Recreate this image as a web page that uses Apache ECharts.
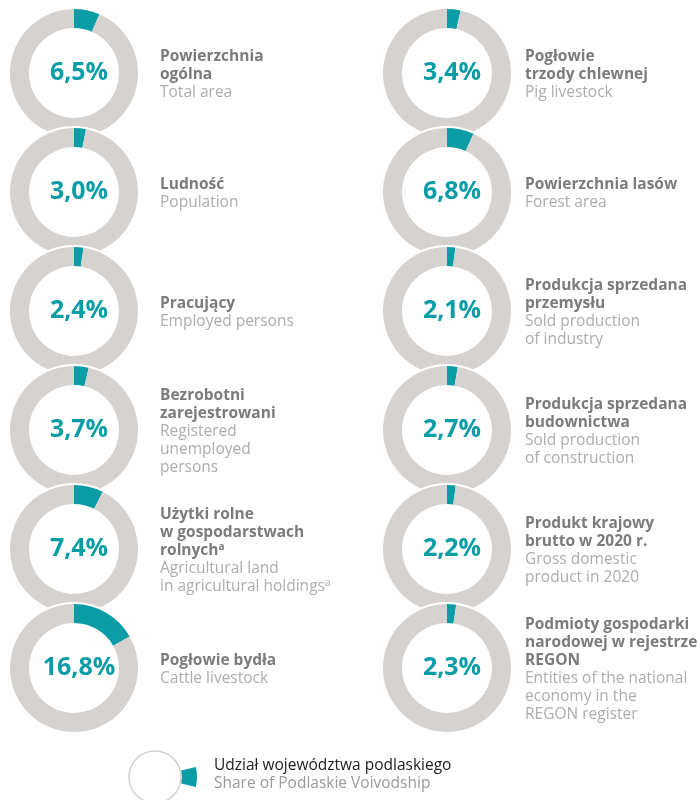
<!DOCTYPE html>
<html>
<head>
<meta charset="utf-8">
<script src="https://cdn.jsdelivr.net/npm/echarts@6/dist/echarts.min.js"></script>
<style>
  html, body { margin: 0; padding: 0; background: #fff; }
  #chart { width: 697px; height: 800px; }
</style>
</head>
<body>
<div id="chart"></div>
<script>
// share of the voivodship in Poland, % (left column first, then right column)
const shares = [6.5, 3.0, 2.4, 3.7, 7.4, 16.8, 3.4, 6.8, 2.1, 2.7, 2.2, 2.3]
const namesPl = [
  'Powierzchnia\nogólna',
  'Ludność',
  'Pracujący',
  'Bezrobotni\nzarejestrowani',
  'Użytki rolne\nw gospodarstwach\nrolnych^a',
  'Pogłowie bydła',
  'Pogłowie\ntrzody chlewnej',
  'Powierzchnia lasów',
  'Produkcja sprzedana\nprzemysłu',
  'Produkcja sprzedana\nbudownictwa',
  'Produkt krajowy\nbrutto w 2020 r.',
  'Podmioty gospodarki\nnarodowej w rejestrze\nREGON'
]
const namesEn = [
  'Total area',
  'Population',
  'Employed persons',
  'Registered\nunemployed\npersons',
  'Agricultural land\nin agricultural holdings^a',
  'Cattle livestock',
  'Pig livestock',
  'Forest area',
  'Sold production\nof industry',
  'Sold production\nof construction',
  'Gross domestic\nproduct in 2020',
  'Entities of the national\neconomy in the\nREGON register'
]
const legendPl = 'Udział województwa podlaskiego'
const legendEn = 'Share of Podlaskie Voivodship'

const TEAL = '#0a9da6'
const GREY = '#d5d2cf'
const FONT = 'Open Sans'

const colX = [74, 447]
const rowY = [73, 192, 311, 430, 549, 668]
const R0 = 45
const R = 64

function fmt(v) {
  return v.toFixed(1).replace('.', ',') + '%'
}

function richLines(str, style) {
  return str.split('\n').map(line => {
    if (line.indexOf('^a') >= 0) {
      return '{' + style + '|' + line.replace('^a', '') + '}{' + style + 'Sup|a}'
    }
    return '{' + style + '|' + line + '}'
  }).join('\n')
}

const series = []
const graphic = []
shares.forEach((v, i) => {
  const col = i < 6 ? 0 : 1
  const row = i % 6
  const cx = colX[col]
  const cy = rowY[row]
  // white disc so each ring cuts into the one above it
  series.push({
    type: 'pie',
    z: 2 + i * 2,
    silent: true,
    center: [cx, cy],
    radius: [0, R + 2],
    label: { show: false },
    itemStyle: { color: '#fff' },
    data: [{ value: 1 }]
  })
  series.push({
    type: 'pie',
    z: 3 + i * 2,
    silent: true,
    center: [cx, cy],
    radius: [R0, R],
    startAngle: 90,
    clockwise: true,
    labelLine: { show: false },
    data: [
      {
        value: v,
        itemStyle: { color: TEAL },
        label: {
          show: true,
          position: 'center',
          formatter: fmt(v),
          offset: [5, 0],
          color: TEAL,
          fontFamily: FONT,
          fontWeight: 'bold',
          fontSize: 25
        }
      },
      { value: 100 - v, itemStyle: { color: GREY }, label: { show: false } }
    ]
  })
  const text = richLines(namesPl[i], 'b') + '\n' + richLines(namesEn[i], 'e')
  const lines = text.split('\n').length
  graphic.push({
    type: 'text',
    left: col === 0 ? 160 : 525,
    top: cy - lines * 9 + 3,
    z: 100,
    style: {
      text: text,
      rich: {
        b: { fontFamily: FONT, fontWeight: 'bold', fontSize: 15.5, fill: '#7b7b7b', lineHeight: 18 },
        bSup: { fontFamily: FONT, fontWeight: 'bold', fontSize: 10, fill: '#7b7b7b', lineHeight: 18, verticalAlign: 'top' },
        e: { fontFamily: FONT, fontSize: 15.5, fill: '#adadad', lineHeight: 18 },
        eSup: { fontFamily: FONT, fontSize: 10, fill: '#adadad', lineHeight: 18, verticalAlign: 'top' }
      }
    }
  })
})

// legend key
graphic.push({
  type: 'circle',
  silent: true,
  shape: { cx: 155, cy: 777, r: 26 },
  style: { fill: '#fff', stroke: GREY, lineWidth: 1.5 }
})
graphic.push({
  type: 'sector',
  silent: true,
  shape: { cx: 155, cy: 777, r0: 27, r: 42, startAngle: -0.24, endAngle: 0.24 },
  style: { fill: TEAL }
})
graphic.push({
  type: 'text',
  left: 214,
  top: 758,
  style: {
    text: '{a|' + legendPl + '}\n{b|' + legendEn + '}',
    rich: {
      a: { fontFamily: FONT, fontSize: 15.5, fill: '#222', lineHeight: 18 },
      b: { fontFamily: FONT, fontSize: 15.5, fill: '#9a9a9a', lineHeight: 18 }
    }
  }
})

const chart = echarts.init(document.getElementById('chart'))
chart.setOption({
  animation: false,
  backgroundColor: '#fff',
  series: series,
  graphic: graphic
})
window.addEventListener('resize', () => chart.resize())
</script>
</body>
</html>
